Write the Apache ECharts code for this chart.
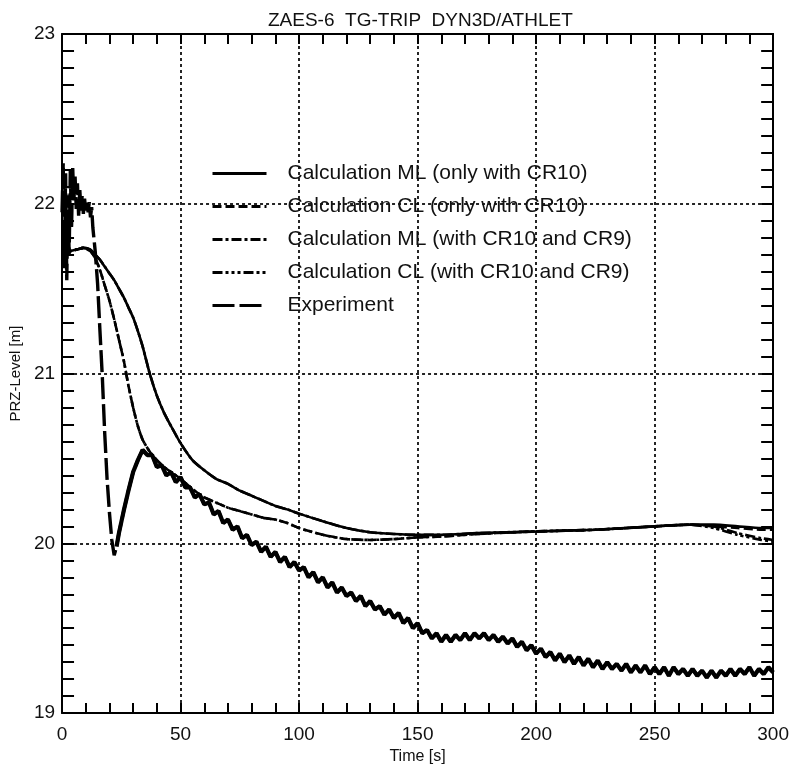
<!DOCTYPE html>
<html>
<head>
<meta charset="utf-8">
<script src="https://cdn.jsdelivr.net/npm/echarts@6/dist/echarts.min.js"></script>
<style>
  html, body { margin: 0; padding: 0; background: #fff; }
  #main { width: 792px; height: 770px; }
</style>
</head>
<body>
<div id="main"></div>
<script>
// time grid shared by the four calculations (s)
const calcT = [0, 3, 6, 9, 12, 14, 16, 18, 20, 22, 24, 26, 28, 30, 32, 34, 37, 40, 43, 46, 50, 55, 60, 65, 70, 75, 80, 85, 90, 95, 100, 110, 120, 130, 140, 150, 160, 175, 200, 225, 250, 265, 275, 285, 295, 300];

// PRZ level (m)
const mlOnlyCR10 = [21.72, 21.72, 21.73, 21.74, 21.73, 21.70, 21.67, 21.63, 21.59, 21.55, 21.50, 21.45, 21.39, 21.33, 21.25, 21.16, 21.00, 20.87, 20.77, 20.69, 20.59, 20.49, 20.43, 20.38, 20.35, 20.31, 20.28, 20.25, 20.22, 20.20, 20.175, 20.13, 20.09, 20.065, 20.055, 20.05, 20.05, 20.06, 20.07, 20.08, 20.10, 20.11, 20.11, 20.10, 20.09, 20.09];
const clOnlyCR10 = [21.72, 21.72, 21.73, 21.74, 21.72, 21.68, 21.61, 21.52, 21.43, 21.32, 21.20, 21.08, 20.93, 20.80, 20.69, 20.61, 20.54, 20.49, 20.45, 20.42, 20.38, 20.32, 20.27, 20.24, 20.21, 20.19, 20.17, 20.15, 20.14, 20.12, 20.09, 20.05, 20.025, 20.02, 20.025, 20.035, 20.04, 20.055, 20.07, 20.08, 20.10, 20.11, 20.10, 20.09, 20.08, 20.08];
const mlCR10CR9 = [21.72, 21.72, 21.73, 21.74, 21.73, 21.70, 21.67, 21.63, 21.59, 21.55, 21.50, 21.45, 21.39, 21.33, 21.25, 21.16, 21.00, 20.87, 20.77, 20.69, 20.59, 20.49, 20.43, 20.38, 20.35, 20.31, 20.28, 20.25, 20.22, 20.20, 20.175, 20.13, 20.09, 20.065, 20.055, 20.05, 20.05, 20.06, 20.07, 20.08, 20.10, 20.11, 20.10, 20.06, 20.03, 20.02];
const clCR10CR9 = [21.72, 21.72, 21.73, 21.74, 21.72, 21.68, 21.61, 21.52, 21.43, 21.32, 21.20, 21.08, 20.93, 20.80, 20.69, 20.61, 20.54, 20.49, 20.45, 20.42, 20.38, 20.32, 20.27, 20.24, 20.21, 20.19, 20.17, 20.15, 20.14, 20.12, 20.09, 20.05, 20.025, 20.02, 20.025, 20.035, 20.04, 20.055, 20.07, 20.08, 20.10, 20.11, 20.09, 20.05, 20.02, 20.01];

// experiment (noisy measurement)
const expT = [0, 0.5, 1, 1.5, 2, 2.5, 3, 3.5, 4, 4.5, 5, 5.5, 6, 6.5, 7, 7.5, 8, 8.5, 9, 9.5, 10, 10.5, 11, 11.5, 12, 12.5, 13, 14, 15, 16, 17, 18, 19, 20, 21, 22, 23,
  24, 26, 28, 30, 32, 34, 36, 38, 40, 42, 44, 46, 48, 50, 52, 54, 56, 58, 60, 62, 64, 66, 68, 70, 72, 74, 76, 78, 80, 82, 84, 86, 88, 90, 92, 94, 96, 98,
  100, 102, 104, 106, 108, 110, 112, 114, 116, 118, 120, 122, 124, 126, 128, 130, 132, 134, 136, 138, 140, 142, 144, 146, 148,
  150, 152, 154, 156, 158, 160, 162, 164, 166, 168, 170, 172, 174, 176, 178, 180, 182, 184, 186, 188, 190, 192, 194, 196, 198,
  200, 202, 204, 206, 208, 210, 212, 214, 216, 218, 220, 222, 224, 226, 228, 230, 232, 234, 236, 238, 240, 242, 244, 246, 248,
  250, 252, 254, 256, 258, 260, 262, 264, 266, 268, 270, 272, 274, 276, 278, 280, 282, 284, 286, 288, 290, 292, 294, 296, 298, 300];
const expV = [21.95, 22.24, 21.62, 22.18, 21.55, 22.05, 21.70, 22.20, 21.85, 22.21, 22.02, 22.16, 21.97, 22.12, 21.93, 22.08, 21.96, 22.05, 21.94, 22.03, 21.96, 22.02, 21.95, 22.01, 21.92, 21.98, 21.86, 21.72, 21.53, 21.25, 20.98, 20.65, 20.38, 20.18, 20.02, 19.93, 19.98,
  20.06, 20.19, 20.31, 20.42, 20.49, 20.55, 20.52, 20.52, 20.45, 20.46, 20.40, 20.42, 20.36, 20.39, 20.33, 20.33, 20.27, 20.29, 20.23, 20.24, 20.17, 20.19, 20.12, 20.14, 20.08, 20.10, 20.03, 20.05, 19.99, 20.01, 19.95, 19.98, 19.92, 19.95, 19.89, 19.92, 19.86, 19.89,
  19.84, 19.86, 19.80, 19.83, 19.77, 19.80, 19.74, 19.77, 19.71, 19.74, 19.69, 19.71, 19.66, 19.69, 19.63, 19.66, 19.61, 19.63, 19.58, 19.61, 19.56, 19.59, 19.53, 19.56, 19.50,
  19.53, 19.47, 19.49, 19.44, 19.47, 19.42, 19.46, 19.42, 19.46, 19.43, 19.47, 19.43, 19.47, 19.44, 19.47, 19.43, 19.46, 19.42, 19.45, 19.41, 19.44, 19.39, 19.42, 19.37, 19.40,
  19.35, 19.38, 19.33, 19.36, 19.31, 19.35, 19.30, 19.34, 19.29, 19.33, 19.28, 19.32, 19.27, 19.31, 19.26, 19.30, 19.26, 19.29, 19.25, 19.29, 19.24, 19.28, 19.24, 19.28, 19.23,
  19.27, 19.23, 19.27, 19.22, 19.27, 19.23, 19.26, 19.22, 19.26, 19.22, 19.25, 19.21, 19.25, 19.21, 19.25, 19.22, 19.26, 19.22, 19.26, 19.23, 19.27, 19.22, 19.26, 19.23, 19.27, 19.24];
// index from which the measurement is a dense noisy band (t = 23 s)
const expBandStart = 36;

const seriesNames = ['Calculation ML (only with CR10)', 'Calculation CL (only with CR10)', 'Calculation ML (with CR10 and CR9)', 'Calculation CL (with CR10 and CR9)', 'Experiment'];
const xTicks = [0, 50, 100, 150, 200, 250, 300];
const yTicks = [19, 20, 21, 22, 23];

const FONT = "'Liberation Sans Narrow', 'Liberation Sans', Arial, sans-serif";
const pairs = (xs, ys) => xs.map((x, i) => [x, ys[i]]);

const tickStyle = {color: '#000', width: 2};

const lineSeries = (name, data, type, width) => ({
    name: name,
    type: 'line',
    data: data,
    symbol: 'none',
    smooth: 0.2,
    lineStyle: {color: '#000', width: width, type: type},
    itemStyle: {color: '#000'},
    emphasis: {disabled: true}
});

const chart = echarts.init(document.getElementById('main'));
chart.setOption({
    backgroundColor: '#fff',
    animation: false,
    textStyle: {fontFamily: FONT},
    title: {
        text: 'ZAES-6  TG-TRIP  DYN3D/ATHLET',
        left: 263,
        top: 6,
        textStyle: {fontFamily: FONT, fontSize: 19, fontWeight: 'normal', color: '#111'}
    },
    grid: {left: 62, right: 16, top: 34, bottom: 48},
    legend: {
        orient: 'vertical',
        left: 206,
        top: 158,
        itemWidth: 54,
        itemHeight: 14,
        itemGap: 12,
        itemStyle: {opacity: 0},
        lineStyle: {width: 3},
        textStyle: {fontFamily: FONT, fontSize: 21, color: '#111', lineHeight: 21, padding: [0, 0, 0, 16]},
        data: seriesNames
    },
    xAxis: [{
        type: 'value',
        min: 0, max: 300, interval: 50,
        name: 'Time [s]',
        nameLocation: 'middle',
        nameGap: 27,
        nameTextStyle: {fontFamily: FONT, fontSize: 16, color: '#111'},
        axisLine: {show: true, onZero: false, lineStyle: tickStyle},
        axisTick: {show: true, inside: true, length: 10, lineStyle: tickStyle},
        minorTick: {show: true, splitNumber: 5, length: 10, lineStyle: tickStyle},
        axisLabel: {fontFamily: FONT, fontSize: 19, color: '#111', margin: 12,
            formatter: v => xTicks.includes(v) ? String(v) : ''},
        splitLine: {show: true, lineStyle: {color: '#000', width: 1.7, type: [3, 3]}}
    }, {
        type: 'value',
        position: 'top',
        min: 0, max: 300, interval: 50,
        axisLine: {show: true, onZero: false, lineStyle: tickStyle},
        axisTick: {show: true, inside: true, length: 10, lineStyle: tickStyle},
        minorTick: {show: true, splitNumber: 5, length: 10, lineStyle: tickStyle},
        axisLabel: {show: false},
        splitLine: {show: false}
    }],
    yAxis: [{
        type: 'value',
        min: 19, max: 23, interval: 1,
        name: 'PRZ-Level [m]',
        nameLocation: 'middle',
        nameRotate: 90,
        nameGap: 33,
        nameTextStyle: {fontFamily: FONT, fontSize: 15, color: '#111'},
        axisLine: {show: true, onZero: false, lineStyle: tickStyle},
        axisTick: {show: true, inside: true, length: 12, lineStyle: tickStyle},
        minorTick: {show: true, splitNumber: 10, length: 12, lineStyle: tickStyle},
        axisLabel: {fontFamily: FONT, fontSize: 19, color: '#111', margin: 7,
            formatter: v => yTicks.includes(v) ? String(v) : ''},
        splitLine: {show: true, lineStyle: {color: '#000', width: 1.7, type: [3, 3]}}
    }, {
        type: 'value',
        position: 'right',
        min: 19, max: 23, interval: 1,
        axisLine: {show: true, onZero: false, lineStyle: tickStyle},
        axisTick: {show: true, inside: true, length: 12, lineStyle: tickStyle},
        minorTick: {show: true, splitNumber: 10, length: 12, lineStyle: tickStyle},
        axisLabel: {show: false},
        splitLine: {show: false}
    }],
    series: [
        lineSeries(seriesNames[0], pairs(calcT, mlOnlyCR10), 'solid', 2.6),
        lineSeries(seriesNames[1], pairs(calcT, clOnlyCR10), [9, 4], 2.6),
        lineSeries(seriesNames[2], pairs(calcT, mlCR10CR9), [10, 3, 3, 3], 2.6),
        lineSeries(seriesNames[3], pairs(calcT, clCR10CR9), [10, 3, 3, 3, 3, 3, 3, 3], 2.6),
        Object.assign(lineSeries(seriesNames[4], pairs(expT, expV), [22, 5], 3.4), {smooth: false}),
        // the dense measured band after the dip reads as one thick noisy trace
        Object.assign(lineSeries('experiment-band', pairs(expT, expV).slice(expBandStart), 'solid', 4.2), {smooth: false})
    ]
});
</script>
</body>
</html>
